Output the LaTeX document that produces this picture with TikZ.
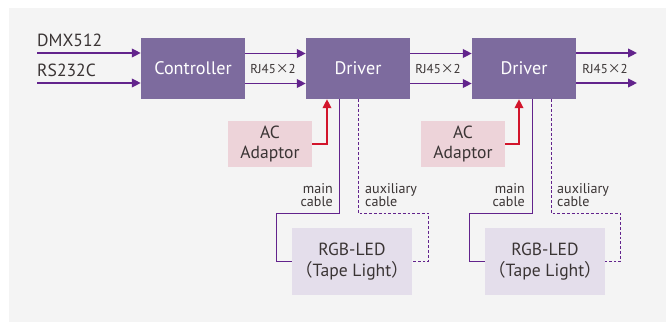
\documentclass[tikz,border=0pt]{standalone}
\usepackage{fontspec}
\setmainfont{PT Sans}
\newfontfamily\cjk{Noto Sans CJK JP}
\usepackage{tikz}
\usetikzlibrary{arrows.meta,calc}
\definecolor{bgcol}{HTML}{F4F4F4}
\definecolor{boxcol}{HTML}{7D6B9E}
\definecolor{sigcol}{HTML}{62238C}
\definecolor{pinkcol}{HTML}{EDD3D9}
\definecolor{ledcol}{HTML}{E4DEEB}
\definecolor{redcol}{HTML}{D2152B}
\definecolor{txtcol}{HTML}{3A3434}
\begin{document}
\begin{tikzpicture}[x=0.3mm,y=-0.3mm]
\tikzstyle{unit}=[fill=boxcol,text=white,minimum width=31.2mm,minimum height=18.3mm,inner sep=0pt,font=\fontsize{15.5}{18}\selectfont]
\tikzstyle{adaptor}=[fill=pinkcol,text=txtcol,minimum width=25.2mm,minimum height=13.8mm,inner sep=0pt,align=center,font=\fontsize{15}{17.5}\selectfont]
\tikzstyle{tape}=[fill=ledcol,text=txtcol,minimum width=36mm,minimum height=20.1mm,inner sep=0pt,align=center,font=\fontsize{15}{18.5}\selectfont]
\tikzstyle{sig}=[draw=sigcol,line width=1.6pt,-{Triangle[length=2.7mm,width=2.6mm]}]
\tikzstyle{pwr}=[draw=redcol,line width=1.6pt,-{Triangle[length=2.7mm,width=2.6mm]}]
\tikzstyle{cable}=[draw=sigcol,line width=0.8pt]
\tikzstyle{auxcable}=[cable,dash pattern=on 2.4pt off 1.7pt]
\tikzstyle{lbl}=[text=txtcol,inner sep=0pt]
\useasboundingbox (0,0) rectangle (668,322);
\fill[bgcol] (9,8) rectangle (666,322);
\node[unit] (ctrl) at (193,68.5) {Controller};
\node[unit] (drv1) at (358,68.5) {Driver};
\node[unit] (drv2) at (524,68.5) {Driver};
\node[adaptor] (ac1) at (270,144) {AC\\Adaptor};
\node[adaptor] (ac2) at (463,144) {AC\\Adaptor};
\node[tape] (rgb1) at (352,261.5) {RGB-LED\\{\cjk （}Tape Light{\cjk ）}};
\node[tape] (rgb2) at (545,261.5) {RGB-LED\\{\cjk （}Tape Light{\cjk ）}};
\coordinate (in1) at (37,53);
\coordinate (in2) at (37,83);
\coordinate (out1) at (637,53);
\coordinate (out2) at (637,83);
\node[lbl,anchor=base west,font=\fontsize{15}{16}\selectfont] (dmx) at (37,47) {DMX512};
\node[lbl,anchor=base west,font=\fontsize{15}{16}\selectfont] (rs) at (37,77) {RS232C};
\node[lbl,font=\fontsize{11}{13}\selectfont] (rj1) at (273,69) {RJ45{\cjk ×}2};
\node[lbl,font=\fontsize{11}{13}\selectfont] (rj2) at (438,69) {RJ45{\cjk ×}2};
\node[lbl,font=\fontsize{11}{13}\selectfont] (rj3) at (605,69) {RJ45{\cjk ×}2};
\node[lbl,anchor=east,align=right,font=\fontsize{12}{11.5}\selectfont] (main1) at (333,195) {main\\cable};
\node[lbl,anchor=west,align=left,font=\fontsize{12}{11.5}\selectfont] (aux1) at (365,195) {auxiliary\\cable};
\node[lbl,anchor=east,align=right,font=\fontsize{12}{11.5}\selectfont] (main2) at (525,195) {main\\cable};
\node[lbl,anchor=west,align=left,font=\fontsize{12}{11.5}\selectfont] (aux2) at (557,195) {auxiliary\\cable};
\draw[sig] (in1) -- (ctrl.west |- in1);
\draw[sig] (in2) -- (ctrl.west |- in2);
\draw[sig] ([yshift=4.5mm]ctrl.east) -- ([yshift=4.5mm]drv1.west);
\draw[sig] ([yshift=-4.5mm]ctrl.east) -- ([yshift=-4.5mm]drv1.west);
\draw[sig] ([yshift=4.5mm]drv1.east) -- ([yshift=4.5mm]drv2.west);
\draw[sig] ([yshift=-4.5mm]drv1.east) -- ([yshift=-4.5mm]drv2.west);
\draw[sig] (drv2.east |- out1) -- (out1);
\draw[sig] (drv2.east |- out2) -- (out2);
\draw[pwr] (ac1.east) -| ($(drv1.south)+(-31,0)$);
\draw[pwr] (ac2.east) -| ($(drv2.south)+(-5,0)$);
\draw[cable] ($(drv1.south)+(-19,0)$) |- ($(rgb1.west)+(-15,-48.5)$) |- (rgb1.west);
\draw[auxcable] (drv1.south) |- ($(rgb1.east)+(16,-48.5)$) |- (rgb1.east);
\draw[cable] ($(drv2.south)+(8,0)$) |- ($(rgb2.west)+(-15,-48.5)$) |- (rgb2.west);
\draw[auxcable] ($(drv2.south)+(27,0)$) |- ($(rgb2.east)+(15,-48.5)$) |- (rgb2.east);
\end{tikzpicture}
\end{document}
